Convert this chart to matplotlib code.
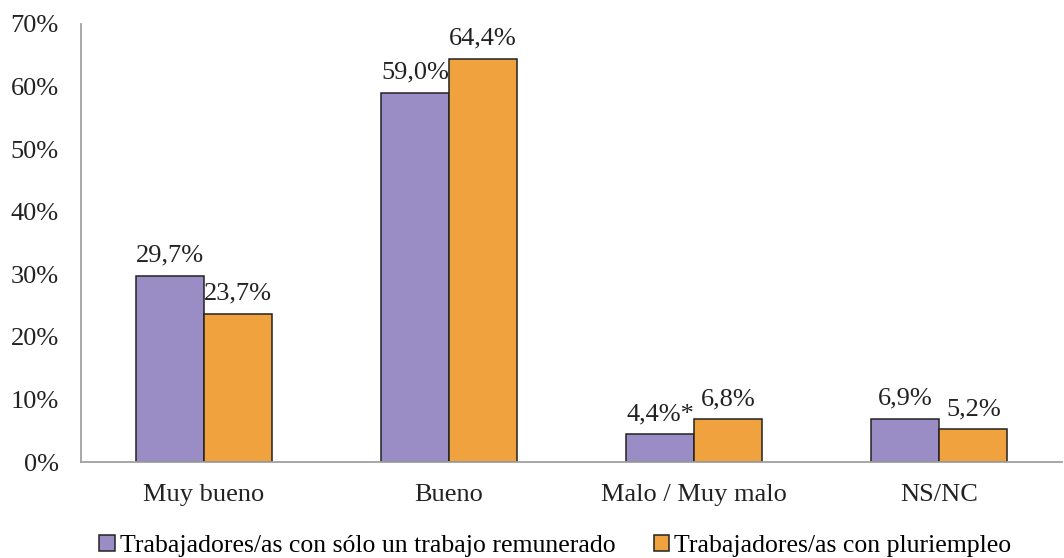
import numpy as np
import matplotlib.pyplot as plt

plt.rcParams['font.family'] = ['Liberation Serif', 'DejaVu Serif']

categorias = ['Muy bueno', 'Bueno', 'Malo / Muy malo', 'NS/NC']
solo_un_trabajo = [29.7, 59.0, 4.4, 6.9]
pluriempleo = [23.7, 64.4, 6.8, 5.2]
etiquetas_solo = ['29,7%', '59,0%', '4,4%*', '6,9%']
etiquetas_pluri = ['23,7%', '64,4%', '6,8%', '5,2%']
series = ['Trabajadores/as con sólo un trabajo remunerado',
          'Trabajadores/as con pluriempleo']

color_morado = '#9a8cc4'
color_naranja = '#f0a23e'
fs = 19

fig = plt.figure(figsize=(10.64, 5.58), dpi=100)
ax = fig.add_axes([0.0761, 0.172, 0.922, 0.785])

x = np.arange(len(categorias))
w = 0.277
b1 = ax.bar(x - w / 2, solo_un_trabajo, w, color=color_morado,
            edgecolor='#222222', linewidth=1.1, label=series[0])
b2 = ax.bar(x + w / 2, pluriempleo, w, color=color_naranja,
            edgecolor='#222222', linewidth=1.1, label=series[1])

for barras, textos in ((b1, etiquetas_solo), (b2, etiquetas_pluri)):
    for r, t in zip(barras, textos):
        ax.text(r.get_x() + r.get_width() / 2, r.get_height() + 1.5, t,
                ha='center', va='bottom', fontsize=fs, color='#222222')

ax.set_xlim(-0.5, 3.5)
ax.set_ylim(0, 70)
ax.set_yticks(np.arange(0, 71, 10))
ax.set_yticklabels([f'{v}%' for v in range(0, 71, 10)])
ax.set_xticks(x)
ax.set_xticklabels(categorias)
ax.tick_params(axis='both', labelsize=fs, colors='#222222', length=0)
ax.tick_params(axis='y', pad=16)
ax.tick_params(axis='x', pad=16)

for s in ('top', 'right'):
    ax.spines[s].set_visible(False)
for s in ('left', 'bottom'):
    ax.spines[s].set_color('#a0a0a0')
    ax.spines[s].set_linewidth(1.3)

fig.legend(handles=[b1, b2], loc='lower center', bbox_to_anchor=(0.522, -0.04),
           ncol=2, frameon=False, fontsize=18.5, handlelength=0.6,
           handleheight=0.6, handletextpad=0.2, columnspacing=1.5)

fig.savefig('out.png', dpi=100)
